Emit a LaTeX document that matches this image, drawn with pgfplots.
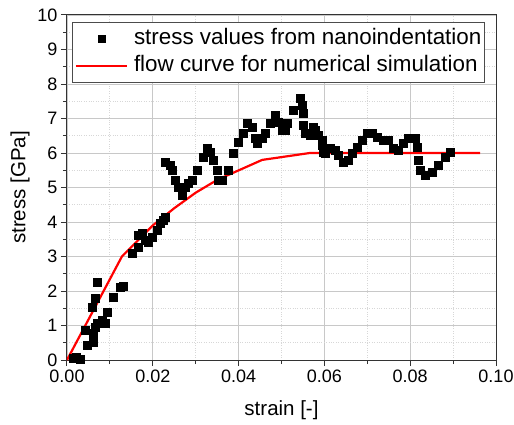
\documentclass[border=0pt]{standalone}
\usepackage{pgfplots}
\pgfplotsset{compat=1.18}
\usepackage{fontspec}
\setmainfont{Liberation Sans}
\definecolor{gridmaj}{RGB}{200,200,200}
\definecolor{gridmin}{RGB}{215,215,215}
\begin{document}
\begin{tikzpicture}
\begin{axis}[
  name=ax,
  scale only axis,
  width=429pt, height=345pt,
  xmin=0, xmax=0.1, ymin=0, ymax=10,
  xtick={0,0.02,...,0.1}, ytick={0,1,...,10},
  minor x tick num=1, minor y tick num=1,
  grid=both,
  major grid style={gridmaj, line width=0.8pt},
  minor grid style={gridmin, dotted, line width=0.8pt},
  axis line style={black!80, line width=1pt},
  tick style={black!80, line width=1pt},
  tick align=outside, tick pos=left,
  major tick length=6pt, minor tick length=4pt,
  /pgf/number format/assume math mode=true,
  xticklabel style={/pgf/number format/fixed, /pgf/number format/fixed zerofill, /pgf/number format/precision=2},
  ticklabel style={font=\fontsize{18}{20}\selectfont},
  xlabel={strain [-]}, ylabel={stress [GPa]},
  every axis x label/.style={at={(axis description cs:0.5,0)}, yshift=-50pt, anchor=center, font=\fontsize{20.5}{22}\selectfont},
  every axis y label/.style={at={(axis description cs:0,0.5)}, xshift=-47pt, rotate=90, anchor=center, font=\fontsize{20.5}{22}\selectfont},
  scaled x ticks=false,
  legend style={at={(axis description cs:0,1)}, xshift=5pt, yshift=-7pt, anchor=north west, draw=black!70, line width=0.8pt,
    font=\fontsize{22.4}{24}\selectfont, row sep=0pt, inner xsep=2.5pt, inner ysep=3pt, fill=white,
    nodes={inner xsep=0pt, inner ysep=2pt, text height=17pt, text depth=6pt}},
  legend cell align=left,
]
\addplot[only marks, mark=square*, mark size=4pt, mark options={black, fill=black},
  legend image code/.code={\path[draw=none, fill=none] (0pt,-2pt) rectangle (58pt,2pt); \fill[black] (22.5pt,-3.5pt) rectangle (29.5pt,3.5pt);}] coordinates {
(0.0014,0.06) (0.0022,0.08) (0.0030,0.03)
(0.0042,0.87) (0.0047,0.43) (0.0060,0.52) (0.0060,0.78) (0.0065,0.96) (0.0070,1.07)
(0.0082,1.16) (0.0093,1.39) (0.0089,1.07) (0.0058,1.54) (0.0065,1.80) (0.0070,2.26)
(0.0107,1.83) (0.0124,2.12) (0.0130,2.14)
(0.0152,3.10) (0.0166,3.28) (0.0166,3.62) (0.0175,3.68) (0.0182,3.48) (0.0189,3.42)
(0.0198,3.57) (0.0210,3.77) (0.0217,3.97) (0.0224,4.06) (0.0228,4.14)
(0.0228,5.74) (0.0240,5.65) (0.0245,5.51) (0.0252,5.22) (0.0259,5.01) (0.0268,4.78)
(0.0275,5.01) (0.0282,5.13) (0.0291,5.22) (0.0303,5.51) (0.0317,5.88) (0.0326,6.14)
(0.0333,6.03) (0.0340,5.80) (0.0350,5.51) (0.0352,5.22) (0.0361,5.22) (0.0375,5.51)
(0.0387,6.00) (0.0399,6.32) (0.0410,6.58) (0.0420,6.87) (0.0431,6.75) (0.0438,6.43)
(0.0443,6.29) (0.0455,6.43) (0.0462,6.58) (0.0473,6.87) (0.0485,7.10) (0.0492,6.90)
(0.0501,6.67) (0.0508,6.67) (0.0513,6.87) (0.0527,7.25) (0.0543,7.59) (0.0548,7.39)
(0.0550,7.16) (0.0550,6.81) (0.0555,6.58) (0.0566,6.52) (0.0573,6.75) (0.0578,6.67)
(0.0585,6.52) (0.0594,6.38) (0.0594,6.23) (0.0597,6.03) (0.0601,6.00) (0.0613,6.14)
(0.0625,6.09) (0.0632,5.94) (0.0643,5.74) (0.0655,5.80) (0.0664,6.00) (0.0676,6.17)
(0.0688,6.38) (0.0699,6.58) (0.0711,6.58) (0.0723,6.46) (0.0737,6.38) (0.0748,6.38)
(0.0760,6.14) (0.0772,6.09) (0.0783,6.29) (0.0795,6.43) (0.0811,6.43) (0.0816,6.17)
(0.0818,5.80) (0.0823,5.51) (0.0834,5.36) (0.0851,5.45) (0.0865,5.65) (0.0881,5.88)
(0.0893,6.03)
};
\addlegendentry{stress values from nanoindentation}
\addplot[red, line width=2.2pt, legend image code/.code={\path[draw=none] (0pt,-2pt) rectangle (58pt,2pt); \draw[red, line width=2.2pt] (0pt,0) -- (51pt,0);}] coordinates {
(0,0) (0.0128,3.0) (0.020,3.9) (0.025,4.4) (0.030,4.85) (0.035,5.22) (0.0455,5.8) (0.0566,6.0) (0.0963,6.0)
};
\addlegendentry{flow curve for numerical simulation}
\end{axis}
\pgfresetboundingbox
\path[use as bounding box] ([shift={(-67pt,-64pt)}]ax.south west) rectangle ([shift={(18pt,15pt)}]ax.north east);
\end{tikzpicture}
\end{document}
